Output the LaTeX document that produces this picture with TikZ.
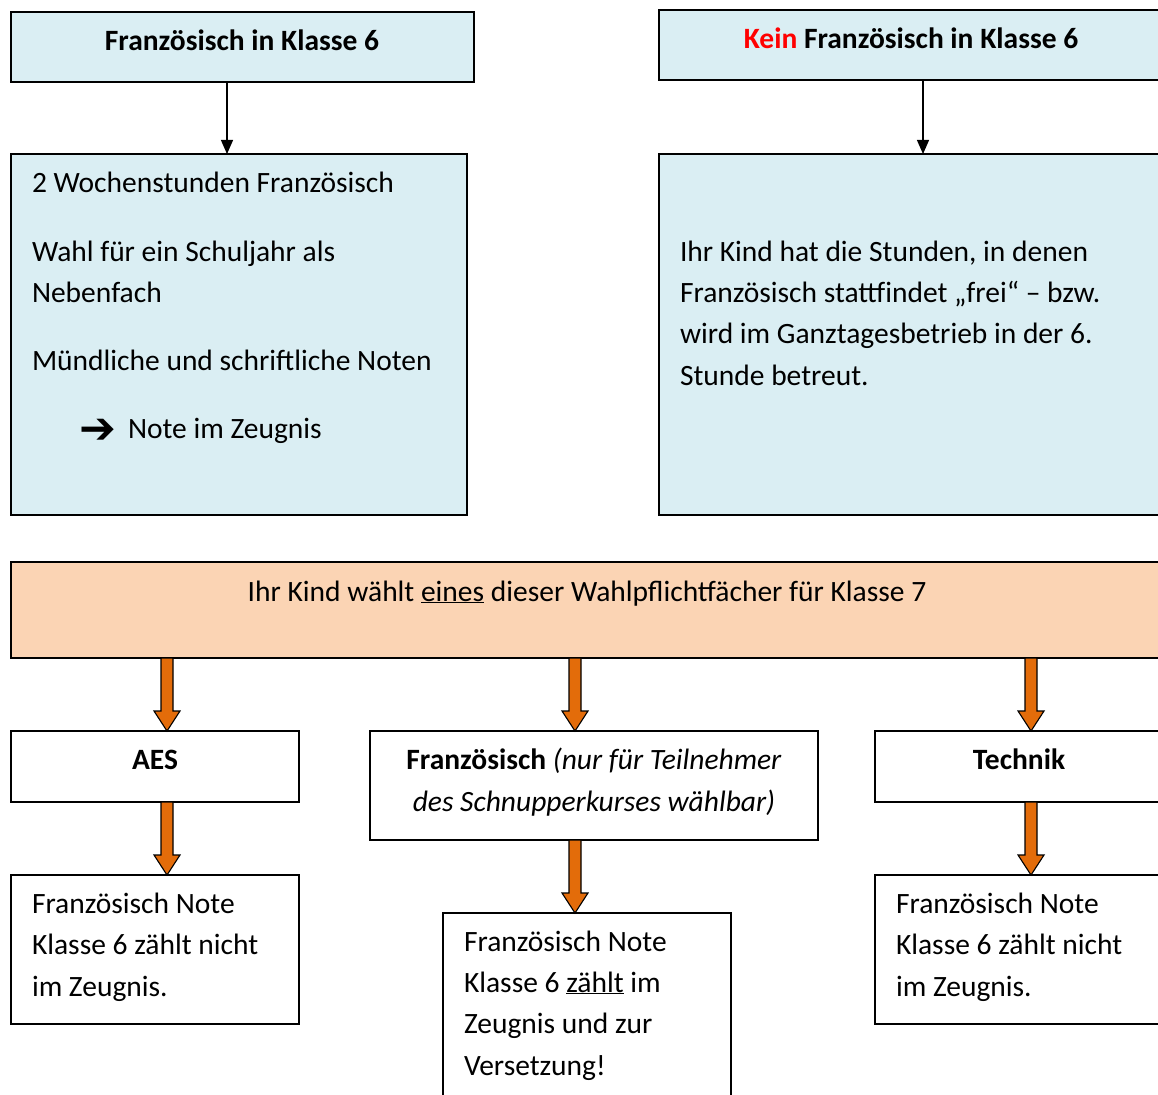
\documentclass[tikz,border=0pt]{standalone}
\usepackage{fontspec}
\setmainfont{Carlito}
\newfontfamily\djv{DejaVu Sans}
\usetikzlibrary{arrows.meta,calc}
\definecolor{lblue}{HTML}{DAEEF3}
\definecolor{peach}{HTML}{FBD4B4}
\definecolor{oarrow}{HTML}{E36C0A}
\newcommand\fatarr[2]{\draw[fatar] let \p1=(#1), \p2=(#2) in
  (\x1-6pt,\y1) -- (\x1+6pt,\y1) -- (\x1+6pt,\y2+20pt) -- (\x1+13pt,\y2+20pt) --
  (\x1,\y2) -- (\x1-13pt,\y2+20pt) -- (\x1-6pt,\y2+20pt) -- cycle;}
\begin{document}
\begin{tikzpicture}[x=1pt,y=-1pt,
  box/.style={draw=black,line width=1.3pt,inner sep=0pt,outer sep=0pt,anchor=north west},
  txt/.style={inner sep=0pt,outer sep=0pt,font=\fontsize{29.5}{41}\selectfont,anchor=base west},
  ctxt/.style={txt,anchor=base},
  bf/.style={font=\fontsize{29.5}{41}\selectfont\bfseries},
  thin/.style={draw=black,line width=1.2pt,-{Triangle[width=12pt,length=14pt]}},
  fatar/.style={draw=black,line width=1.1pt,fill=oarrow,line join=miter}]
\useasboundingbox (0,0) rectangle (1158,1094);
\clip (0,0) rectangle (1158,1094);
% boxes
\node[box,fill=lblue,minimum width=463pt,minimum height=70pt] (b1) at (11,12) {};
\node[box,fill=lblue,minimum width=520pt,minimum height=70pt] (b2) at (659,10) {};
\node[box,fill=lblue,minimum width=456pt,minimum height=361pt] (b3) at (11,154) {};
\node[box,fill=lblue,minimum width=520pt,minimum height=361pt] (b4) at (659,154) {};
\node[box,fill=peach,minimum width=1170pt,minimum height=96pt] (b5) at (11,562) {};
\node[box,minimum width=288pt,minimum height=71pt] (b6) at (11,731) {};
\node[box,minimum width=448pt,minimum height=109pt] (b7) at (370,731) {};
\node[box,minimum width=300pt,minimum height=71pt] (b8) at (875,731) {};
\node[box,minimum width=288pt,minimum height=149pt] (b9) at (11,875) {};
\node[box,minimum width=288pt,minimum height=220pt] (b10) at (443,913) {};
\node[box,minimum width=300pt,minimum height=149pt] (b11) at (875,875) {};
% texts
\node[ctxt,bf] (t1) at (242,51) {Französisch in Klasse 6};
\node[ctxt,bf] (t2) at (911,49) {\textcolor{red}{Kein} Französisch in Klasse 6};
\node[txt] (t3a) at (32,193) {2 Wochenstunden Französisch};
\node[txt] (t3b) at (32,261) {Wahl für ein Schuljahr als};
\node[txt] (t3c) at (32,302) {Nebenfach};
\node[txt] (t3d) at (32,370) {Mündliche und schriftliche Noten};
\node[txt,font=\fontsize{44}{41}\djv\bfseries] (t3e) at (79,443) {➔};
\node[txt] (t3f) at (128,438) {Note im Zeugnis};
\node[txt] (t4a) at (680,261) {Ihr Kind hat die Stunden, in denen};
\node[txt] (t4b) at (680,302) {Französisch stattfindet „frei“ – bzw.};
\node[txt] (t4c) at (680,343) {wird im Ganztagesbetrieb in der 6.};
\node[txt] (t4d) at (680,385) {Stunde betreut.};
\node[ctxt] (t5) at (587,601) {Ihr Kind wählt \underline{eines} dieser Wahlpflichtfächer für Klasse 7};
\node[ctxt,bf] (t6) at (155,769) {AES};
\node[ctxt] (t7a) at (594,769) {\textbf{Französisch} \textit{(nur für Teilnehmer}};
\node[ctxt] (t7b) at (594,811) {\textit{des Schnupperkurses wählbar)}};
\node[ctxt,bf] (t8) at (1019,769) {Technik};
\node[txt] (t9a) at (32,913) {Französisch Note};
\node[txt] (t9b) at (32,954) {Klasse 6 zählt nicht};
\node[txt] (t9c) at (32,996) {im Zeugnis.};
\node[txt] (t10a) at (464,951) {Französisch Note};
\node[txt] (t10b) at (464,992) {Klasse 6 \underline{zählt} im};
\node[txt] (t10c) at (464,1033) {Zeugnis und zur};
\node[txt] (t10d) at (464,1075) {Versetzung!};
\node[txt] (t11a) at (896,913) {Französisch Note};
\node[txt] (t11b) at (896,954) {Klasse 6 zählt nicht};
\node[txt] (t11c) at (896,996) {im Zeugnis.};
% connectors
\coordinate (ca) at (227,0);
\coordinate (cb) at (923,0);
\coordinate (c1) at (167,0);
\coordinate (c2) at (575,0);
\coordinate (c3) at (1031,0);
\draw[thin] (b1.south -| ca) -- (b3.north -| ca);
\draw[thin] (b2.south -| cb) -- (b4.north -| cb);
\fatarr{b5.south -| c1}{b6.north -| c1}
\fatarr{b5.south -| c2}{b7.north -| c2}
\fatarr{b5.south -| c3}{b8.north -| c3}
\fatarr{b6.south -| c1}{b9.north -| c1}
\fatarr{b7.south -| c2}{b10.north -| c2}
\fatarr{b8.south -| c3}{b11.north -| c3}
\end{tikzpicture}
\end{document}
